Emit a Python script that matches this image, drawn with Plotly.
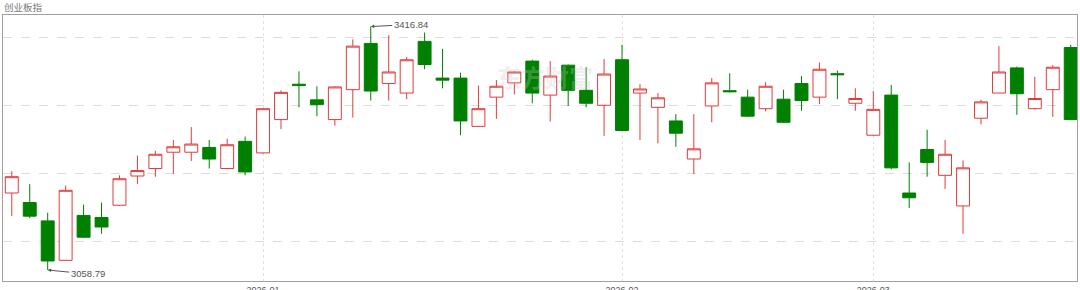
import plotly.graph_objects as go

title_text = "创业板指"

dates = [
    "2025-12-12", "2025-12-15", "2025-12-16", "2025-12-17", "2025-12-18", "2025-12-19",
    "2025-12-22", "2025-12-23", "2025-12-24", "2025-12-25", "2025-12-26", "2025-12-29",
    "2025-12-30", "2025-12-31",
    "2026-01-05", "2026-01-06", "2026-01-07", "2026-01-08", "2026-01-09", "2026-01-12",
    "2026-01-13", "2026-01-14", "2026-01-15", "2026-01-16", "2026-01-19", "2026-01-20",
    "2026-01-21", "2026-01-22", "2026-01-23", "2026-01-26", "2026-01-27", "2026-01-28",
    "2026-01-29", "2026-01-30",
    "2026-02-02", "2026-02-03", "2026-02-04", "2026-02-05", "2026-02-06", "2026-02-09",
    "2026-02-10", "2026-02-11", "2026-02-12", "2026-02-13", "2026-02-24", "2026-02-25",
    "2026-02-26", "2026-02-27",
    "2026-03-02", "2026-03-03", "2026-03-04", "2026-03-05", "2026-03-06", "2026-03-09",
    "2026-03-10", "2026-03-11", "2026-03-12", "2026-03-13", "2026-03-16", "2026-03-17",
]

open_ = [3172, 3158, 3131, 3073, 3139, 3136, 3154, 3197, 3208, 3232,
         3232, 3239, 3208, 3248, 3231, 3280, 3332, 3309, 3280, 3324,
         3392, 3333, 3319, 3395, 3341, 3341, 3270, 3313, 3334, 3366,
         3316, 3360, 3323, 3301, 3368, 3319, 3298, 3278, 3222, 3300,
         3322.5, 3313, 3296, 3310, 3333, 3313, 3347.5, 3304, 3257, 3316,
         3172, 3236, 3198, 3153, 3282, 3319, 3356, 3296, 3324, 3386]
high = [3204, 3185, 3143, 3183, 3155, 3158, 3198, 3227, 3234, 3250,
        3269, 3250, 3252, 3255, 3297, 3323, 3351, 3329, 3329, 3398,
        3416.84, 3404, 3372, 3408, 3384, 3349, 3330, 3338, 3351, 3368,
        3366, 3361, 3357, 3369, 3390, 3332, 3319, 3288, 3288, 3341,
        3348, 3324, 3335, 3324, 3344, 3364, 3352, 3326, 3322, 3331,
        3217, 3265, 3250, 3220, 3309, 3388, 3358, 3343, 3360, 3390]
low = [3138, 3135, 3058.79, 3072, 3106, 3112, 3153, 3185, 3196, 3200,
       3219, 3208, 3207, 3198, 3230, 3266, 3298, 3285, 3271, 3283,
       3308, 3308, 3310, 3354, 3326, 3257, 3270, 3281, 3317, 3304,
       3277, 3300, 3298, 3256, 3263, 3250, 3245, 3240, 3200, 3276,
       3320, 3284, 3292, 3275, 3293, 3303, 3310, 3293, 3256, 3207,
       3150, 3196, 3178, 3112, 3273, 3319, 3287, 3295, 3284, 3279]
close = [3196, 3138, 3072, 3176, 3107, 3122, 3193, 3205, 3229, 3240,
         3244, 3222, 3243, 3203, 3296, 3320, 3330, 3302, 3328, 3388,
         3322, 3350, 3368, 3361, 3338, 3278, 3296, 3329, 3350, 3319,
         3344, 3323, 3304, 3347, 3264, 3325, 3312, 3260, 3237, 3334,
         3321, 3285, 3329, 3276, 3308, 3354, 3346, 3311, 3295, 3209,
         3165, 3217, 3229, 3209, 3306, 3350, 3318, 3311, 3357, 3280]

month_ticks = ["2026-01-05", "2026-02-02", "2026-03-02"]
month_labels = ["2026-01", "2026-02", "2026-03"]

RED = "#e23b3b"
GREEN = "#008000"

fig = go.Figure()
fig.add_trace(go.Candlestick(
    x=dates, open=open_, high=high, low=low, close=close,
    increasing=dict(line=dict(color=RED, width=1), fillcolor="#ffffff"),
    decreasing=dict(line=dict(color=GREEN, width=1), fillcolor=GREEN),
    whiskerwidth=0,
    hoverinfo="x+y",
    showlegend=False,
))

i_max = max(range(len(high)), key=lambda i: high[i])
i_min = min(range(len(low)), key=lambda i: low[i])

annotations = [
    dict(x=dates[i_max], y=high[i_max], xref="x", yref="y",
         text=f"{high[i_max]:.2f}", showarrow=True, ax=40, ay=-2,
         arrowhead=2, arrowsize=0.7, arrowwidth=1, arrowcolor="#555",
         font=dict(size=9.5, color="#555", family="Arial, Liberation Sans, sans-serif")),
    dict(x=dates[i_min], y=low[i_min], xref="x", yref="y",
         text=f"{low[i_min]:.2f}", showarrow=True, ax=40, ay=4,
         arrowhead=2, arrowsize=0.7, arrowwidth=1, arrowcolor="#555",
         font=dict(size=9.5, color="#555", family="Arial, Liberation Sans, sans-serif")),
    dict(x=0, y=1, xref="paper", yref="paper", xanchor="left", yanchor="bottom",
         text=title_text, showarrow=False, xshift=0, yshift=0, borderpad=0,
         font=dict(size=9.5, color="#777", family="Noto Sans CJK SC")),
    dict(x=0.505, y=0.77, xref="paper", yref="paper", xanchor="center", yanchor="middle",
         text="<b>东方财富</b>", showarrow=False,
         font=dict(size=24, color="rgba(200,200,200,0.3)", family="Noto Sans CJK SC")),
]

fig.update_layout(
    width=1080, height=290,
    margin=dict(l=3, r=3, t=15, b=9, autoexpand=False),
    paper_bgcolor="white", plot_bgcolor="white",
    boxgap=0.28, boxgroupgap=0,
    annotations=annotations,
    font=dict(family="Arial, Liberation Sans, sans-serif", size=9, color="#555"),
    xaxis=dict(
        type="category", range=[-0.49, 59.35], automargin=False,
        rangeslider=dict(visible=False),
        tickmode="array", tickvals=month_ticks, ticktext=month_labels,
        showgrid=True, gridcolor="#e2e2e2", griddash="dot", gridwidth=1,
        showline=True, linecolor="#a0a0a0", linewidth=1, mirror=True,
        ticks="", tickfont=dict(size=9, color="#555"),
        zeroline=False,
    ),
    yaxis=dict(
        range=[3042.6, 3433.8], automargin=False,
        tickmode="array", tickvals=[3100, 3200, 3300, 3400],
        showticklabels=False,
        showgrid=True, gridcolor="#dcdcdc", griddash="dash", gridwidth=1,
        showline=True, linecolor="#a0a0a0", linewidth=1, mirror=True,
        ticks="", zeroline=False,
    ),
)

fig.write_html("out.html")
